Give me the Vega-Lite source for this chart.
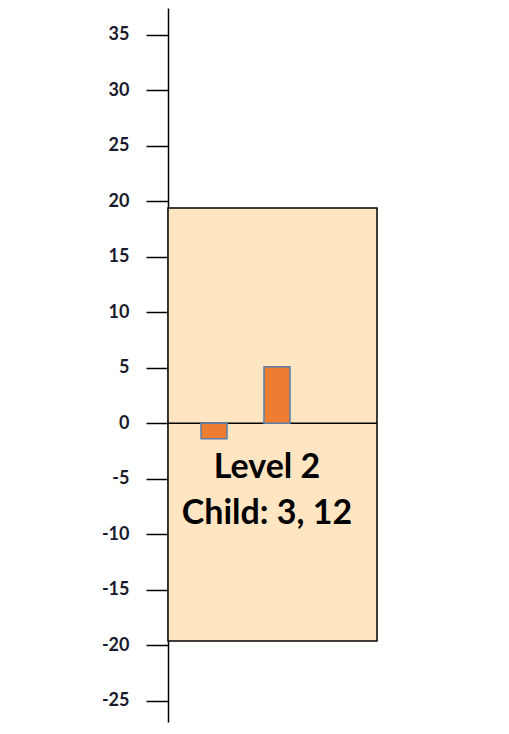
{
  "$schema": "https://vega.github.io/schema/vega-lite/v6.json",
  "width": 209,
  "height": 714,
  "autosize": {"type": "none"},
  "padding": {"left": 168, "top": 8, "right": 132, "bottom": 12},
  "background": "white",
  "config": {"view": {"stroke": null}},
  "datasets": {
    "box": [{"x": 0, "x2": 209, "y": -19.6, "y2": 19.4}],
    "bars": [{"x": 33, "x2": 59, "v": -1.4}, {"x": 96, "x2": 122, "v": 5.1}],
    "zero": [{"x": 0, "x2": 209, "v": 0}],
    "labels": [{"x": 99, "y": -4.95, "t": "Level 2"}, {"x": 99, "y": -9.1, "t": "Child: 3, 12"}]
  },
  "layer": [
    {
      "data": {"name": "box"},
      "mark": {"type": "rect", "fill": "#FFE5C2", "stroke": "black", "strokeWidth": 1.5},
      "encoding": {
        "x": {"field": "x", "type": "quantitative", "scale": {"domain": [0, 209], "nice": false}, "axis": null},
        "x2": {"field": "x2"},
        "y": {"field": "y", "type": "quantitative", "scale": {"domain": [-26.9, 37.4], "nice": false, "zero": false},
          "axis": {"values": [-25, -20, -15, -10, -5, 0, 5, 10, 15, 20, 25, 30, 35], "title": null, "grid": false,
            "labelExpr": "toString(datum.value)",
            "domainColor": "black", "domainWidth": 1.5, "tickColor": "black", "tickWidth": 1.5, "tickSize": 22,
            "labelPadding": 17, "labelFont": "Lato", "labelFontWeight": "bold", "labelFontSize": 18, "labelColor": "#1a1a2e"}},
        "y2": {"field": "y2"}
      }
    },
    {
      "data": {"name": "zero"},
      "mark": {"type": "rule", "color": "black", "strokeWidth": 1.5},
      "encoding": {
        "x": {"field": "x", "type": "quantitative"},
        "x2": {"field": "x2"},
        "y": {"field": "v", "type": "quantitative"}
      }
    },
    {
      "data": {"name": "bars"},
      "mark": {"type": "rect", "fill": "#ED7D31", "stroke": "#5A7FA8", "strokeWidth": 1.5},
      "encoding": {
        "x": {"field": "x", "type": "quantitative"},
        "x2": {"field": "x2"},
        "y": {"field": "v", "type": "quantitative"},
        "y2": {"datum": 0}
      }
    },
    {
      "data": {"name": "labels"},
      "mark": {"type": "text", "font": "Lato", "fontWeight": "bold", "fontSize": 34, "color": "black", "align": "center", "baseline": "alphabetic"},
      "encoding": {
        "x": {"field": "x", "type": "quantitative"},
        "y": {"field": "y", "type": "quantitative"},
        "text": {"field": "t"}
      }
    }
  ]
}
